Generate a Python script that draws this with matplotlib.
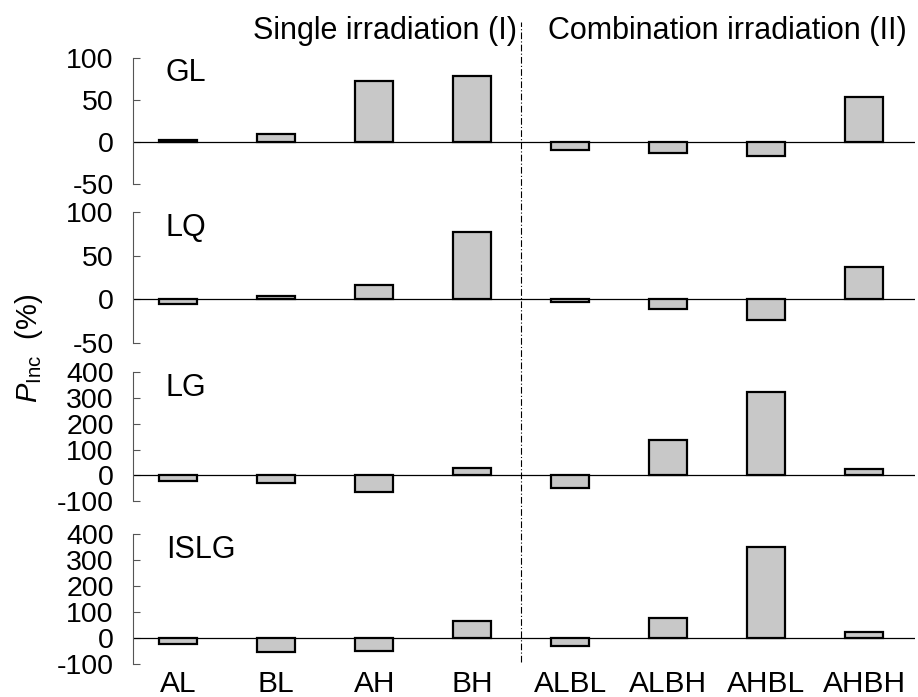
import numpy as np
import matplotlib
matplotlib.use("Agg")
import matplotlib.pyplot as plt
from matplotlib.lines import Line2D
from matplotlib.transforms import blended_transform_factory

plt.rcParams["font.family"] = ["Liberation Sans", "DejaVu Sans"]
plt.rcParams["mathtext.fontset"] = "custom"
plt.rcParams["mathtext.rm"] = "Liberation Sans"
plt.rcParams["mathtext.it"] = "Liberation Sans:italic"
plt.rcParams["axes.unicode_minus"] = False

# treatments (x axis)
treatments = ["AL", "BL", "AH", "BH", "ALBL", "ALBH", "AHBL", "AHBH"]

# P_Inc (%) per trait
gl = [2, 10, 72, 78, -9, -13, -17, 54]
lq = [-6, 4, 16, 77, -3, -11, -24, 37]
lg = [-23, -30, -64, 28, -49, 136, 325, 26]
islg = [-22, -53, -48, 64, -30, 76, 349, 24]

panel_names = ["GL", "LQ", "LG", "ISLG"]
panel_values = [gl, lq, lg, islg]
panel_ylim = [(-50, 100), (-50, 100), (-100, 400), (-100, 400)]
panel_yticks = [[-50, 0, 50, 100], [-50, 0, 50, 100],
                [-100, 0, 100, 200, 300, 400], [-100, 0, 100, 200, 300, 400]]

fig = plt.figure(figsize=(9.18, 6.97), dpi=100)

# axes boxes in figure fraction (left, bottom, width, height)
boxes = [(0.145, 0.736, 0.852, 0.181),
         (0.145, 0.508, 0.852, 0.188),
         (0.145, 0.281, 0.852, 0.185),
         (0.145, 0.047, 0.852, 0.187)]

x = np.arange(len(treatments))
axes = []
for i, (name, vals) in enumerate(zip(panel_names, panel_values)):
    ax = fig.add_axes(boxes[i])
    ax.bar(x, vals, width=0.39, color="#c8c8c8", edgecolor="black",
           linewidth=1.6, zorder=3)
    ax.axhline(0, color="black", lw=0.9, zorder=2)
    ax.set_xlim(-0.46, 7.52)
    ax.set_ylim(*panel_ylim[i])
    ax.set_yticks(panel_yticks[i])
    ax.tick_params(axis="y", direction="in", length=5, width=0.8,
                   colors="#555555", labelcolor="black", labelsize=20.5, pad=14)
    for s in ["top", "right", "bottom"]:
        ax.spines[s].set_visible(False)
    ax.spines["left"].set_color("#555555")
    ax.spines["left"].set_linewidth(0.8)
    ax.text(0.042, 0.88, name, transform=ax.transAxes, fontsize=22,
            ha="left", va="center")
    if i == 3:
        ax.set_xticks(x)
        ax.set_xticklabels(treatments, fontsize=21.5)
        ax.tick_params(axis="x", length=0, pad=4)
    else:
        ax.set_xticks([])
    axes.append(ax)

# vertical separator between single and combination treatments
trans = blended_transform_factory(axes[3].transData, fig.transFigure)
fig.add_artist(Line2D([3.5, 3.5], [0.05, 0.968], transform=trans,
                      color="black", lw=0.8, linestyle=(0, (6, 2, 1, 2))))

fig.text(0.419, 0.956, "Single irradiation (I)", fontsize=22,
         ha="center", va="center")
fig.text(0.792, 0.956, "Combination irradiation (II)", fontsize=22,
         ha="center", va="center")
fig.text(0.032, 0.50, r"$P_{\rm Inc}$  (%)", fontsize=21, rotation=90,
         ha="center", va="center")

fig.savefig("out.png", dpi=100)
